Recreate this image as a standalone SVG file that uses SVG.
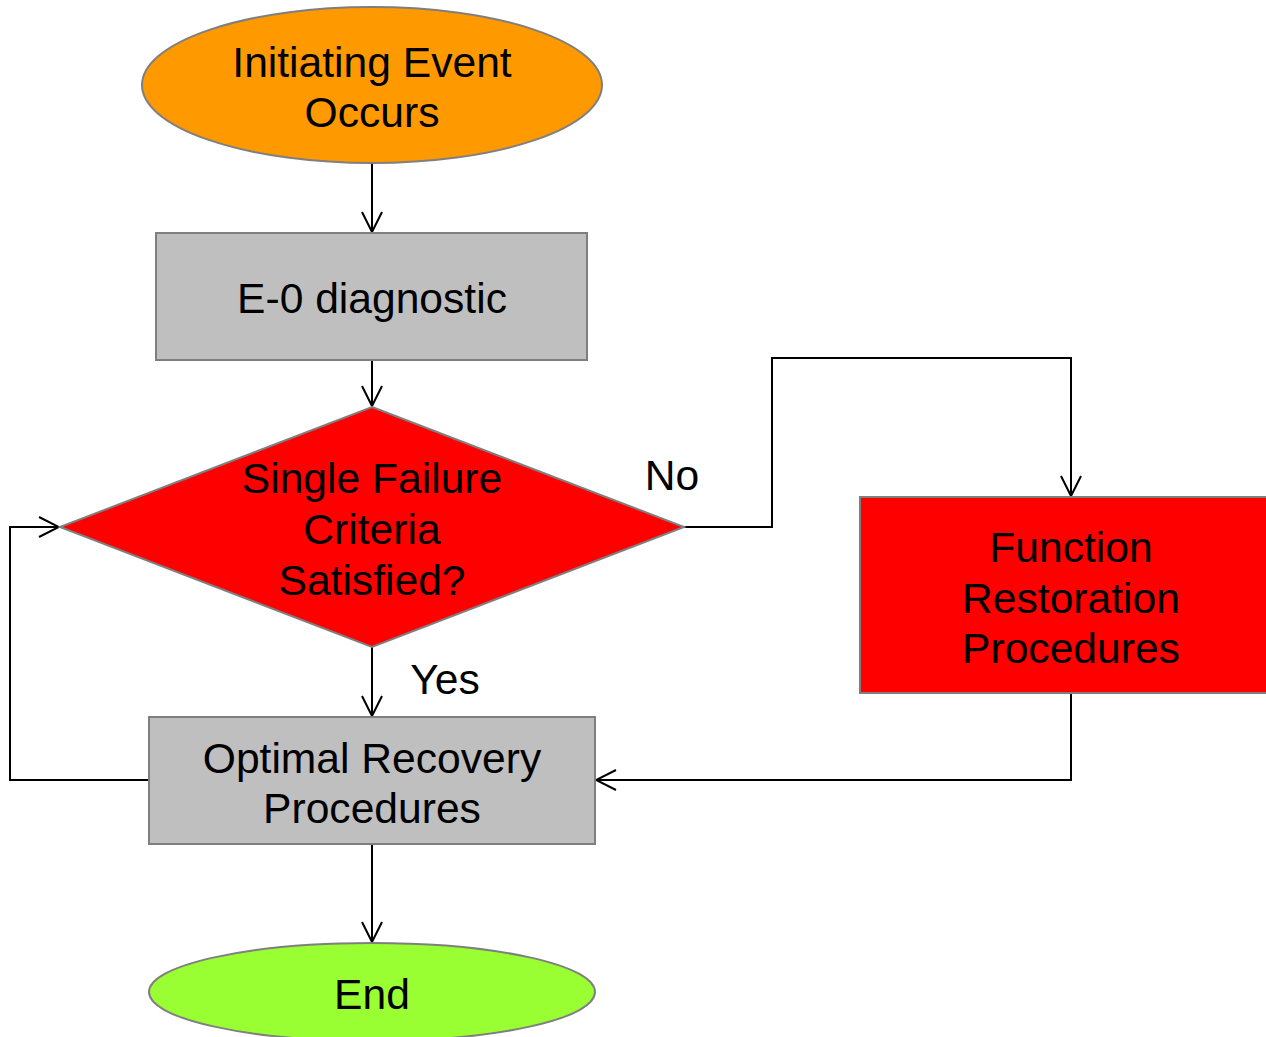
<svg xmlns="http://www.w3.org/2000/svg" width="1266" height="1037" viewBox="0 0 1266 1037">
<defs>
<marker id="arr" viewBox="0 0 24 24" refX="22" refY="12" markerWidth="24" markerHeight="24" markerUnits="userSpaceOnUse" orient="auto">
<path d="M2,2 L22,12 L2,22" fill="none" stroke="#000" stroke-width="2"/>
</marker>
<style>
.n{stroke:#7F7F7F;stroke-width:2}
.t{font-family:"Liberation Sans",Arial,sans-serif;font-size:42.6px;fill:#000;text-anchor:middle}
.c{fill:none;stroke:#000;stroke-width:2}
</style>
</defs>
<g id="connectors">
<path class="c" d="M372,163 V232" marker-end="url(#arr)"/>
<path class="c" d="M372,360 V406" marker-end="url(#arr)"/>
<path class="c" d="M372,647 V716" marker-end="url(#arr)"/>
<path class="c" d="M372,844 V942" marker-end="url(#arr)"/>
<path class="c" d="M684,527 H772 V358 H1071 V496" marker-end="url(#arr)"/>
<path class="c" d="M1071,693 V780 H596" marker-end="url(#arr)"/>
<path class="c" d="M149,780 H10 V527 H59" marker-end="url(#arr)"/>
</g>
<g id="start">
<ellipse class="n" cx="372" cy="85" rx="230" ry="78" fill="#FF9900"/>
<text class="t" x="372" y="77">Initiating Event</text>
<text class="t" x="372" y="127">Occurs</text>
</g>
<g id="e0">
<rect class="n" x="156" y="233" width="431" height="127" fill="#BFBFBF"/>
<text class="t" x="372" y="313">E-0 diagnostic</text>
</g>
<g id="decision">
<polygon class="n" points="372,407 684,527 372,647 60,527" fill="#FF0000"/>
<text class="t" x="372" y="493">Single Failure</text>
<text class="t" x="372" y="544">Criteria</text>
<text class="t" x="372" y="595">Satisfied?</text>
</g>
<g id="function">
<rect class="n" x="860" y="497" width="420" height="196" fill="#FF0000"/>
<text class="t" x="1071" y="562">Function</text>
<text class="t" x="1071" y="613">Restoration</text>
<text class="t" x="1071" y="663">Procedures</text>
</g>
<g id="optimal">
<rect class="n" x="149" y="717" width="446" height="127" fill="#BFBFBF"/>
<text class="t" x="372" y="773">Optimal Recovery</text>
<text class="t" x="372" y="823">Procedures</text>
</g>
<g id="end">
<ellipse class="n" cx="372" cy="992" rx="223" ry="49" fill="#99FF33"/>
<text class="t" x="372" y="1009">End</text>
</g>
<g id="labels">
<text class="t" x="672" y="490">No</text>
<text class="t" x="445" y="694">Yes</text>
</g>
</svg>
